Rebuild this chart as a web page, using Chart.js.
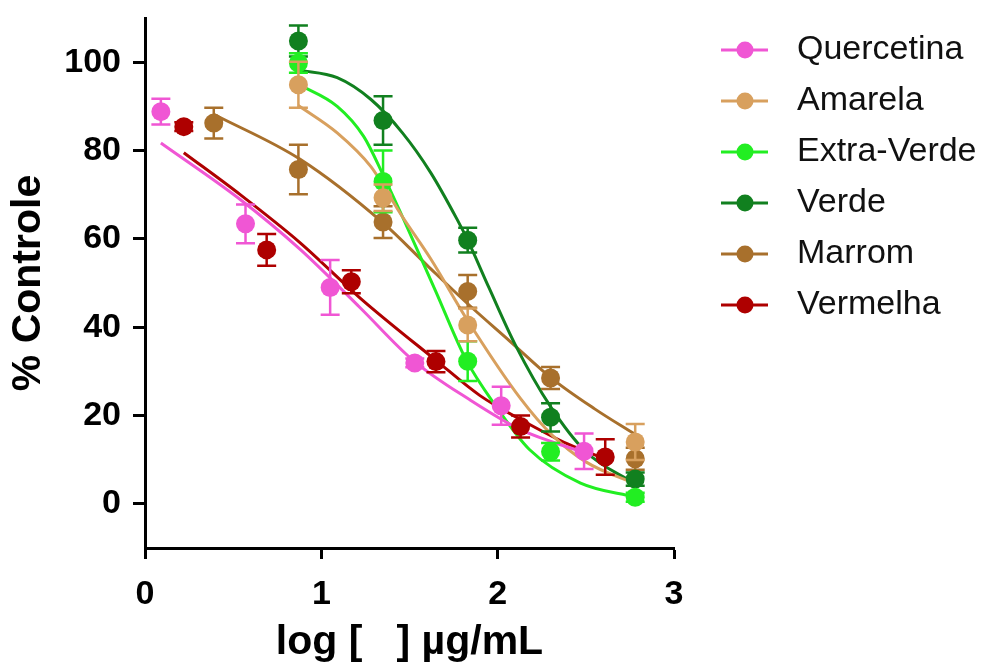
<!DOCTYPE html>
<html>
<head>
<meta charset="utf-8">
<script src="https://cdn.jsdelivr.net/npm/chart.js@4.4.0/dist/chart.umd.min.js"></script>
<style>
html, body { margin: 0; padding: 0; background: #fff; }
#wrap { width: 994px; height: 667px; }
</style>
</head>
<body>
<div id="wrap"><canvas id="myChart" width="994" height="667"></canvas></div>
<script>
// series names + colours (legend order)
const seriesNames = ['Quercetina', 'Amarela', 'Extra-Verde', 'Verde', 'Marrom', 'Vermelha']
const seriesColors = ['#f056d4', '#d8a05e', '#22ee22', '#11801f', '#a8702c', '#ae0000']

// axis ticks
const xTicks = [0, 1, 2, 3]
const yTicks = [0, 20, 40, 60, 80, 100]

// measured points (log conc, % controle, error)
const quercetinaX = [0.09, 0.57, 1.05, 1.53, 2.02, 2.49]
const quercetinaY = [88.8, 63.4, 49.0, 31.9, 22.2, 11.9]
const quercetinaErr = [2.9, 4.4, 6.2, 1.0, 4.3, 4.0]

const amarelaX = [0.87, 1.35, 1.83, 2.78]
const amarelaY = [94.9, 69.3, 40.5, 14.0]
const amarelaErr = [5.2, 3.0, 3.7, 4.1]

const extraVerdeX = [0.87, 1.35, 1.83, 2.30, 2.78]
const extraVerdeY = [99.8, 73.0, 32.3, 11.8, 1.5]
const extraVerdeErr = [2.2, 7.0, 4.5, 2.0, 1.0]

const verdeX = [0.87, 1.35, 1.83, 2.30, 2.78]
const verdeY = [104.8, 86.8, 59.7, 19.6, 5.6]
const verdeErr = [3.5, 5.5, 2.8, 3.2, 1.5]

const marromX = [0.39, 0.87, 1.35, 1.83, 2.30, 2.78]
const marromY = [86.2, 75.7, 63.8, 48.1, 28.5, 10.2]
const marromErr = [3.5, 5.6, 3.6, 3.7, 2.5, 2.5]

const vermelhaX = [0.22, 0.69, 1.17, 1.65, 2.13, 2.61]
const vermelhaY = [85.4, 57.5, 50.3, 32.2, 17.5, 10.6]
const vermelhaErr = [1.0, 3.6, 2.6, 2.4, 2.5, 4.0]

// fitted curves
const quercetinaFitX = [0.09, 0.54, 0.88, 1.22, 1.52, 1.84, 2.13, 2.49]
const quercetinaFitY = [81.7, 68.9, 57.6, 44.4, 32.5, 23.6, 16.8, 11.6]

const amarelaFitX = [0.87, 1.09, 1.28, 1.46, 1.62, 1.83, 2.13, 2.31, 2.5, 2.78]
const amarelaFitY = [90.2, 84.0, 76.4, 65.0, 55.5, 41.5, 23.8, 15.5, 9.5, 4.5]

const extraVerdeFitX = [0.87, 1.09, 1.24, 1.35, 1.46, 1.55, 1.65, 1.82, 1.99, 2.18, 2.47, 2.78]
const extraVerdeFitY = [95.0, 90.0, 83.2, 74.5, 65.0, 57.0, 48.0, 32.7, 22.1, 12.3, 4.7, 1.5]

const verdeFitX = [0.87, 1.09, 1.28, 1.46, 1.62, 1.77, 1.83, 1.95, 2.1, 2.3, 2.5, 2.78]
const verdeFitY = [98.2, 96.5, 91.6, 84.0, 75.0, 64.4, 59.7, 49.0, 36.0, 22.0, 11.8, 4.5]

const marromFitX = [0.39, 0.88, 1.35, 1.6, 1.83, 2.07, 2.31, 2.55, 2.78]
const marromFitY = [88.2, 78.0, 63.6, 54.0, 45.3, 36.8, 28.3, 21.5, 15.7]

const vermelhaFitX = [0.22, 0.54, 0.88, 1.22, 1.65, 1.9, 2.13, 2.4, 2.61]
const vermelhaFitY = [79.5, 70.0, 59.1, 46.6, 32.5, 24.5, 19.1, 13.5, 10.2]

const pointsX = [quercetinaX, amarelaX, extraVerdeX, verdeX, marromX, vermelhaX]
const pointsY = [quercetinaY, amarelaY, extraVerdeY, verdeY, marromY, vermelhaY]
const pointsErr = [quercetinaErr, amarelaErr, extraVerdeErr, verdeErr, marromErr, vermelhaErr]
const fitsX = [quercetinaFitX, amarelaFitX, extraVerdeFitX, verdeFitX, marromFitX, vermelhaFitX]
const fitsY = [quercetinaFitY, amarelaFitY, extraVerdeFitY, verdeFitY, marromFitY, vermelhaFitY]

const fontFamily = '"Liberation Sans", Arial, Helvetica, sans-serif'

function zip(xs, ys) {
    return xs.map((x, i) => ({x: x, y: ys[i]}))
}

// vertical error bars, drawn just under each point dataset
const errorBarPlugin = {
    id: 'errorBars',
    beforeDatasetDraw(chart, args) {
        const ds = chart.data.datasets[args.index]
        if (!ds.errorBars) return
        const yScale = chart.scales.y
        const ctx = chart.ctx
        ctx.save()
        ctx.strokeStyle = ds.backgroundColor
        ctx.lineWidth = 2.5
        args.meta.data.forEach((pt, j) => {
            const v = ds.data[j].y
            const e = ds.errorBars[j]
            const top = yScale.getPixelForValue(v + e)
            const bot = yScale.getPixelForValue(v - e)
            ctx.beginPath()
            ctx.moveTo(pt.x, top); ctx.lineTo(pt.x, bot)
            ctx.moveTo(pt.x - 9.5, top); ctx.lineTo(pt.x + 9.5, top)
            ctx.moveTo(pt.x - 9.5, bot); ctx.lineTo(pt.x + 9.5, bot)
            ctx.stroke()
        })
        ctx.restore()
    }
}

// legend on the right: line + dot + name
const sideLegendPlugin = {
    id: 'sideLegend',
    afterDraw(chart) {
        const ctx = chart.ctx
        const x0 = chart.chartArea.right + 47
        ctx.save()
        seriesNames.forEach((name, i) => {
            const y = 50 + i * 51
            ctx.strokeStyle = seriesColors[i]
            ctx.lineWidth = 3
            ctx.beginPath()
            ctx.moveTo(x0, y); ctx.lineTo(x0 + 47, y)
            ctx.stroke()
            ctx.fillStyle = seriesColors[i]
            ctx.beginPath()
            ctx.arc(x0 + 24, y, 8.5, 0, Math.PI * 2)
            ctx.fill()
            ctx.fillStyle = '#111'
            ctx.font = '34px ' + fontFamily
            ctx.textBaseline = 'middle'
            ctx.textAlign = 'left'
            ctx.fillText(name, x0 + 76, y)
        })
        ctx.restore()
    }
}

function loadChart() {
    const datasets = []
    // points first so they sit on top of the curves
    for (let i = 0; i < seriesNames.length; i++) {
        datasets.push({
            label: seriesNames[i],
            data: zip(pointsX[i], pointsY[i]),
            errorBars: pointsErr[i],
            backgroundColor: seriesColors[i],
            borderColor: seriesColors[i],
            borderWidth: 0,
            pointRadius: 9.5,
            showLine: false
        })
    }
    for (let i = 0; i < seriesNames.length; i++) {
        datasets.push({
            label: seriesNames[i] + ' fit',
            data: zip(fitsX[i], fitsY[i]),
            borderColor: seriesColors[i],
            backgroundColor: seriesColors[i],
            borderWidth: 3,
            pointRadius: 0,
            showLine: true,
            cubicInterpolationMode: 'monotone'
        })
    }

    const tickFont = {family: fontFamily, size: 34, weight: 'bold'}

    new Chart(document.getElementById('myChart'), {
        type: 'scatter',
        data: {datasets: datasets},
        plugins: [errorBarPlugin, sideLegendPlugin],
        options: {
            responsive: false,
            animation: false,
            layout: {padding: {left: 0, right: 320, top: 18, bottom: 0}},
            plugins: {
                legend: {display: false},
                tooltip: {enabled: false}
            },
            scales: {
                x: {
                    type: 'linear',
                    min: 0,
                    max: 3,
                    afterBuildTicks: (s) => { s.ticks = xTicks.map(v => ({value: v})) },
                    afterFit: (s) => { s.height = 119; s.paddingLeft = 0; s.paddingRight = 0 },
                    grid: {drawOnChartArea: false, drawTicks: true, tickLength: 11, tickColor: '#000', tickWidth: 3},
                    border: {display: true, color: '#000', width: 3},
                    ticks: {color: '#000', font: tickFont, padding: 15, maxRotation: 0},
                    title: {
                        display: true,
                        text: 'log [   ] µg/mL',
                        color: '#000',
                        font: {family: fontFamily, size: 41, weight: 'bold', lineHeight: 1.2},
                        padding: {top: 0, bottom: 0}
                    }
                },
                y: {
                    type: 'linear',
                    min: -10,
                    max: 110,
                    afterBuildTicks: (s) => { s.ticks = yTicks.map(v => ({value: v})) },
                    afterFit: (s) => { s.width = 145; s.paddingTop = 0; s.paddingBottom = 0 },
                    grid: {drawOnChartArea: false, drawTicks: true, tickLength: 12, tickColor: '#000', tickWidth: 3},
                    border: {display: true, color: '#000', width: 3},
                    ticks: {color: '#000', font: tickFont, padding: 12},
                    title: {
                        display: true,
                        text: '% Controle',
                        color: '#000',
                        font: {family: fontFamily, size: 41, weight: 'bold', lineHeight: 1.2},
                        padding: {top: 4, bottom: 0}
                    }
                }
            }
        }
    })
}

loadChart()
</script>
</body>
</html>
